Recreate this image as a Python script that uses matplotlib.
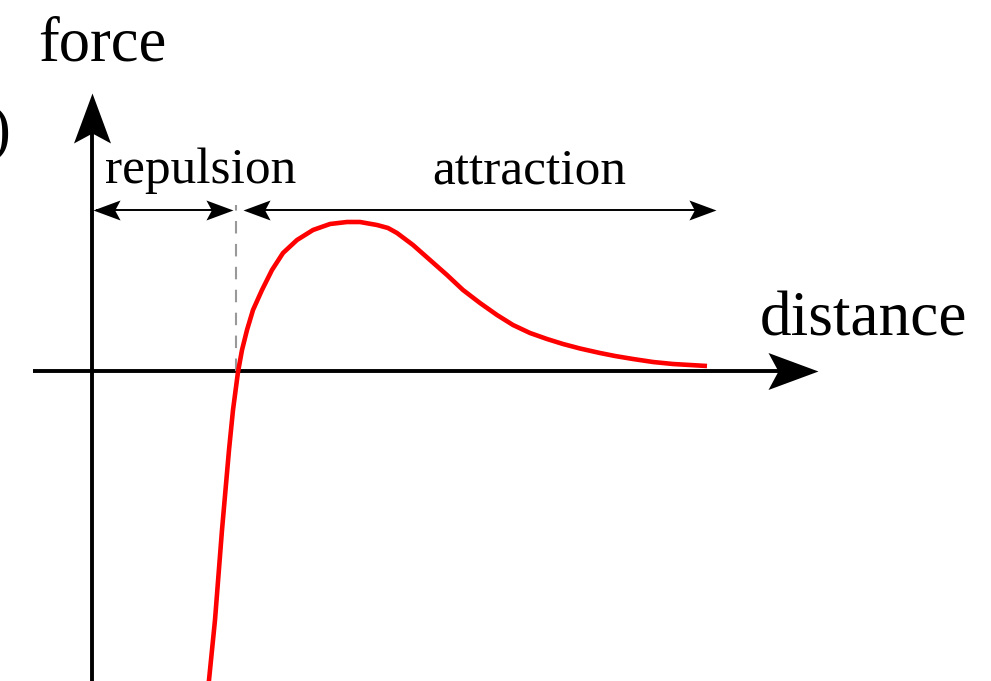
import numpy as np
import matplotlib
matplotlib.use("Agg")
import matplotlib.pyplot as plt
from matplotlib.markers import MarkerStyle
from matplotlib.transforms import Affine2D

# curve (distance, force) in arbitrary units
distance = [1.16, 1.23, 1.30, 1.37, 1.41, 1.46, 1.50, 1.55, 1.61, 1.70, 1.80,
            1.91, 2.05, 2.21, 2.38, 2.55, 2.68, 2.85, 2.96, 3.05, 3.21, 3.38,
            3.55, 3.71, 3.88, 4.05, 4.21, 4.38, 4.55, 4.71, 4.88, 5.08, 5.23,
            5.41, 5.61, 5.81, 5.98, 6.15]
force = [-3.19, -2.49, -1.59, -0.79, -0.39, -0.01, 0.21, 0.41, 0.61, 0.81, 1.01,
         1.18, 1.31, 1.41, 1.47, 1.49, 1.49, 1.46, 1.43, 1.38, 1.26, 1.11,
         0.96, 0.81, 0.68, 0.56, 0.46, 0.38, 0.32, 0.27, 0.225, 0.18, 0.15,
         0.12, 0.09, 0.07, 0.06, 0.05]

r0 = 1.44            # zero crossing (repulsion / attraction boundary)
band_y = 1.61        # height of the range arrows
x_axis = (-0.59, 7.26)
y_axis = (-3.2, 2.78)
attr_end = 6.24

plt.rcParams['font.family'] = ['Liberation Serif', 'DejaVu Serif']

fig = plt.figure(figsize=(9.91, 6.81), dpi=100)
ax = fig.add_axes([0, 0, 1, 1])
ax.set_xlim(-0.92, 8.99)
ax.set_ylim(-3.10, 3.71)
ax.axis('off')


def head(angle, L=1.0, W=0.37, notch=0.8):
    verts = [(0, 0), (-L, W), (-notch * L, 0), (-L, -W), (0, 0)]
    m = MarkerStyle(verts)
    return MarkerStyle(m.get_path(), transform=Affine2D().rotate_deg(angle))


def stealth(ax, x, y, angle, size):
    ax.plot([x], [y], marker=head(angle), markersize=size, color='black',
            markeredgewidth=0, zorder=5)


# axes
ax.plot([x_axis[0], x_axis[1] - 0.3], [0, 0], color='black', lw=2.8,
        solid_capstyle='butt')
stealth(ax, x_axis[1], 0, 0, 72)
ax.plot([0, 0], [y_axis[0], y_axis[1] - 0.3], color='black', lw=2.8,
        solid_capstyle='butt')
stealth(ax, 0, y_axis[1], 90, 72)

# boundary marker
ax.plot([r0, r0], [0, band_y + 0.05], color='#999999', lw=1.5,
        dashes=(6, 5))

# range arrows
ax.plot([0.05, r0 - 0.15], [band_y, band_y], color='black', lw=1.4)
stealth(ax, 0.01, band_y, 180, 39)
stealth(ax, r0 - 0.03, band_y, 0, 39)
ax.plot([r0 + 0.15, attr_end - 0.1], [band_y, band_y], color='black', lw=1.4)
stealth(ax, r0 + 0.07, band_y, 180, 39)
stealth(ax, attr_end, band_y, 0, 39)

# force curve
ax.plot(distance, force, color='#ff0000', lw=3.3, solid_capstyle='butt',
        solid_joinstyle='round', zorder=4)

# labels
ax.text(-0.54, 3.11, 'force', fontsize=45, ha='left', va='baseline')
ax.text(6.68, 0.36, 'distance', fontsize=45.5, ha='left', va='baseline')
ax.text(0.13, 1.88, 'repulsion', fontsize=37, ha='left', va='baseline')
ax.text(3.40, 1.88, 'attraction', fontsize=37, ha='left', va='baseline')
ax.text(-0.81, 2.23, ')', fontsize=45, ha='right', va='baseline')

fig.savefig('out.png', dpi=100)
